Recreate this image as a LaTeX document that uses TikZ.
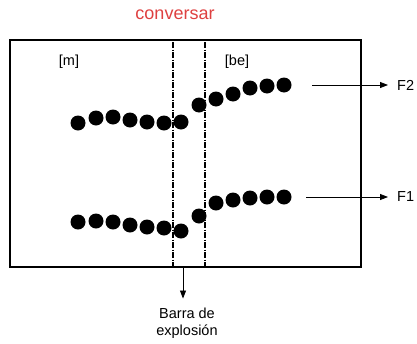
\documentclass[tikz,border=0pt]{standalone}
\usepackage{fontspec}
\setmainfont{Liberation Sans}
\usepackage{tikz}
\usetikzlibrary{arrows.meta}

\definecolor{convred}{RGB}{222,64,64}

\tikzset{
  lab/.style={font=\fontsize{14.5}{17}\selectfont, inner sep=1pt},
  cut/.style={line width=1.6pt, dash pattern=on 6pt off 1.5pt on 1pt off 1.5pt},
  arr/.style={-{Triangle[length=8pt,width=6pt]}, line width=0.8pt},
  pt/.style={fill=black}
}

\begin{document}
\begin{tikzpicture}[x=1pt,y=-1pt]
\useasboundingbox (0,0) rectangle (417,343);
\coordinate (TL) at (10,40);
\coordinate (BR) at (361,267);
\draw[line width=1.8pt] (TL) rectangle (BR);
\node[lab, font=\fontsize{18}{20}\selectfont, text=convred] (conv) at (175,15) {conversar};
\node[lab] (m) at (69,62) {[m]};
\node[lab] (be) at (237,62) {[be]};
% explosion bars
\draw[cut] (173,42) -- (173,266);
\draw[cut] (205,42) -- (205,266);
% F2 row
\foreach \x/\y in {78/123, 96/118, 113/117, 130/120, 147/122, 164/123, 181/122,
  199/105, 216/99, 233/94, 250/88, 267/86, 284/85}
  \fill[pt] (\x,\y) circle (7.5);
% F1 row
\foreach \x/\y in {78/222, 96/221, 113/222, 130/225, 147/227, 164/228, 181/231,
  199/216, 216/203, 233/200, 250/198, 267/197, 284/197}
  \fill[pt] (\x,\y) circle (7.5);
% formant labels
\coordinate (f2s) at (312,85);
\coordinate (f1s) at (306,197);
\node[lab, anchor=west] (F2) at (396,85) {F2};
\node[lab, anchor=west] (F1) at (396,197) {F1};
\draw[arr, shorten >=8pt] (f2s) -- (F2.west);
\draw[arr, shorten >=8pt] (f1s) -- (F1.west);
% bar label
\coordinate (bar) at (183,267);
\node[lab, align=center] (barra) at (187,323) {Barra de\\explosión};
\draw[arr, shorten >=8pt] (bar) -- (bar |- barra.north);
\end{tikzpicture}
\end{document}
